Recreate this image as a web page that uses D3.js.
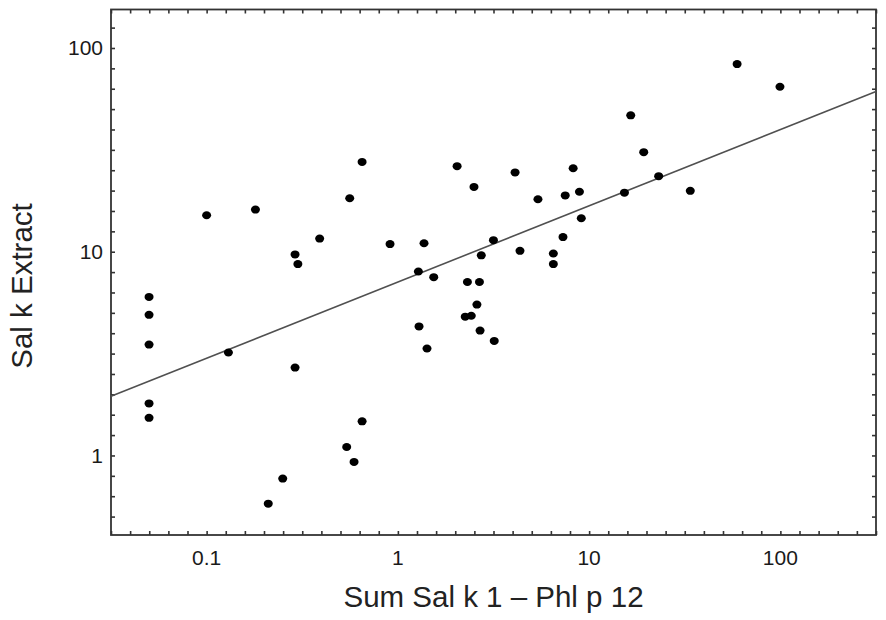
<!DOCTYPE html>
<html>
<head>
<meta charset="utf-8">
<script src="https://cdn.jsdelivr.net/npm/d3@7"></script>
<style>
  body { margin: 0; background: #fff; }
</style>
</head>
<body>
<script>
var width = 886;
var height = 620;

// measured points (sum Sal k 1 - Phl p 12, Sal k extract)
var xValues = [0.05, 0.05, 0.1, 0.18, 0.29, 0.30, 0.39, 0.56, 0.65, 0.91,
               0.05, 0.13, 0.29, 0.05, 0.05, 0.65, 0.54, 0.59, 0.25, 0.21,
               2.04, 2.5, 4.1, 5.4, 7.5, 8.25, 8.9, 9.1, 15.3, 19.3,
               23.1, 33.8, 1.37, 1.28, 1.54, 3.16, 2.73, 4.35, 7.3, 6.5,
               6.5, 2.31, 2.67, 2.59, 2.25, 2.42, 1.29, 2.69, 1.42, 3.19,
               59.4, 99.5, 16.5];
var yValues = [6.0, 4.9, 15.1, 16.1, 9.7, 8.7, 11.6, 18.3, 27.6, 10.9,
               3.5, 3.2, 2.7, 1.8, 1.53, 1.47, 1.1, 0.93, 0.77, 0.58,
               26.3, 20.8, 24.5, 18.1, 18.9, 25.7, 19.7, 14.6, 19.5, 30.8,
               23.5, 19.9, 11.0, 8.0, 7.5, 11.4, 9.6, 10.1, 11.8, 9.8,
               8.7, 7.1, 7.1, 5.5, 4.8, 4.85, 4.3, 4.1, 3.35, 3.65,
               83.4, 64.5, 46.7];

// log-log fit: y = fitAtOne * x^fitSlope
var fitSlope = 0.374;
var fitAtOne = 7.1;

var xTickLabels = [0.1, 1, 10, 100];
var yTickLabels = [1, 10, 100];

var xDomain = [Math.pow(10, -1.5), Math.pow(10, 2.5)];
var yDomain = [0.407, 154.5];

var plot = {left: 111, right: 876, top: 9.5, bottom: 535};

var svg = d3.select('body').append('svg')
            .attr('width', width)
            .attr('height', height);

svg.append('rect')
   .attr('width', width)
   .attr('height', height)
   .attr('fill', '#fff');

var x = d3.scaleLog().domain(xDomain).range([plot.left, plot.right]);
var y = d3.scaleLog().domain(yDomain).range([plot.bottom, plot.top]);

// minor ticks every tenth of a decade
var xTicks = d3.range(-15, 26).map(k => Math.pow(10, k / 10));
var yTicks = d3.range(-3, 22).map(k => Math.pow(10, k / 10));

var tickColor = '#333';

var makeAxis = function(axisFn, scale, ticks, translate) {
  var g = svg.append('g')
             .attr('transform', 'translate(' + translate[0] + ',' + translate[1] + ')')
             .call(axisFn(scale)
                     .tickValues(ticks)
                     .tickSizeInner(-4)
                     .tickSizeOuter(0)
                     .tickFormat(''));
  g.select('.domain').remove();
  g.selectAll('.tick line')
   .attr('stroke', tickColor)
   .attr('stroke-width', 1.6);
}

makeAxis(d3.axisBottom, x, xTicks, [0, plot.bottom]);
makeAxis(d3.axisTop, x, xTicks, [0, plot.top]);
makeAxis(d3.axisLeft, y, yTicks, [plot.left, 0]);
makeAxis(d3.axisRight, y, yTicks, [plot.right, 0]);

// frame
svg.append('rect')
   .attr('x', plot.left)
   .attr('y', plot.top)
   .attr('width', plot.right - plot.left)
   .attr('height', plot.bottom - plot.top)
   .attr('fill', 'none')
   .attr('stroke', '#333')
   .attr('stroke-width', 1.8);

// tick labels
svg.selectAll('.xLabel')
   .data(xTickLabels)
   .enter().append('text')
   .attr('class', 'xLabel')
   .attr('x', d => x(d))
   .attr('y', 565)
   .attr('text-anchor', 'middle')
   .style('font-family', 'Liberation Sans, Arial, sans-serif')
   .style('font-size', '21px')
   .style('fill', '#1a1a1a')
   .text(d => d);

svg.selectAll('.yLabel')
   .data(yTickLabels)
   .enter().append('text')
   .attr('class', 'yLabel')
   .attr('x', 103)
   .attr('y', d => y(d) + 7.5)
   .attr('text-anchor', 'end')
   .style('font-family', 'Liberation Sans, Arial, sans-serif')
   .style('font-size', '21px')
   .style('fill', '#1a1a1a')
   .text(d => d);

// regression line
var fitLine = d3.line()
                .x(d => x(d))
                .y(d => y(fitAtOne * Math.pow(d, fitSlope)));

svg.append('path')
   .datum(xDomain)
   .attr('d', fitLine)
   .attr('fill', 'none')
   .attr('stroke', '#505050')
   .attr('stroke-width', 1.6);

// points
svg.selectAll('.point')
   .data(xValues)
   .enter().append('ellipse')
   .attr('class', 'point')
   .attr('cx', d => x(d))
   .attr('cy', (d, i) => y(yValues[i]))
   .attr('rx', 4.5)
   .attr('ry', 4)
   .attr('fill', '#000');

// axis titles
svg.append('text')
   .attr('x', (plot.left + plot.right) / 2)
   .attr('y', 607)
   .attr('text-anchor', 'middle')
   .style('font-family', 'Liberation Sans, Arial, sans-serif')
   .style('font-size', '29.5px')
   .style('fill', '#222')
   .text('Sum Sal k 1 \u2013 Phl p 12');

svg.append('text')
   .attr('transform', 'translate(32,286) rotate(-90)')
   .attr('text-anchor', 'middle')
   .style('font-family', 'Liberation Sans, Arial, sans-serif')
   .style('font-size', '29.5px')
   .style('fill', '#222')
   .text('Sal k Extract');
</script>
</body>
</html>
